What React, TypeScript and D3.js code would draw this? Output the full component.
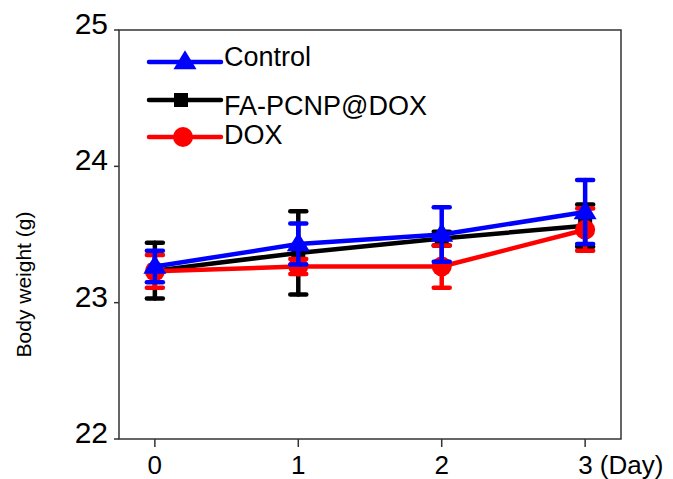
import React from "react";
import * as d3 from "d3";

const days = [0, 1, 2, 3];
const dayLabels = ["0", "1", "2", "3 (Day)"];
const yTicks = [22, 23, 24, 25];
const seriesNames = ["Control", "FA-PCNP@DOX", "DOX"];
const controlMean = [23.265, 23.43, 23.5, 23.665];
const controlErr = [0.115, 0.15, 0.2, 0.235];
const faMean = [23.235, 23.365, 23.47, 23.565];
const faErr = [0.205, 0.305, 0.05, 0.155];
const doxMean = [23.23, 23.265, 23.265, 23.535];
const doxErr = [0.12, 0.055, 0.155, 0.155];

const W = 673;
const H = 479;
const FONT = "Arial, 'Liberation Sans', Helvetica, sans-serif";

type Series = { name: string; mean: number[]; err: number[]; color: string; marker: string };

const series: Series[] = [
  { name: seriesNames[0], mean: controlMean, err: controlErr, color: "#0000ff", marker: "triangle" },
  { name: seriesNames[1], mean: faMean, err: faErr, color: "#000000", marker: "square" },
  { name: seriesNames[2], mean: doxMean, err: doxErr, color: "#ff0000", marker: "circle" },
];

const drawOrder = [1, 2, 0];

function Marker({ type, x, y, color }: { type: string; x: number; y: number; color: string }) {
  if (type === "triangle") {
    const w = 23, h = 19;
    return <path d={`M${x},${y - h * 0.62} L${x + w / 2},${y + h * 0.38} L${x - w / 2},${y + h * 0.38} Z`} fill={color} />;
  }
  if (type === "square") {
    const s = 14;
    return <rect x={x - s / 2} y={y - s / 2} width={s} height={s} fill={color} />;
  }
  return <circle cx={x} cy={y} r={10} fill={color} />;
}

export default function App() {
  const x = d3.scaleLinear().domain([-0.25, 3.25]).range([119, 621]);
  const y = d3.scaleLinear().domain([22, 25]).range([439, 30]);
  const line = d3.line<number>().x((_, i) => x(days[i])).y((d) => y(d));
  const axisColor = "#333";
  const capW = 8;

  return (
    <svg width={W} height={H} style={{ position: "absolute", left: 0, top: 0, background: "#fff" }} fontFamily={FONT}>
      <rect x={0} y={0} width={W} height={H} fill="#fff" />
      {/* frame */}
      <rect x={x(-0.25)} y={y(25)} width={x(3.25) - x(-0.25)} height={y(22) - y(25)} fill="none" stroke={axisColor} strokeWidth={1.5} />
      {/* y ticks */}
      {yTicks.map((t) => (
        <g key={"y" + t}>
          <line x1={x(-0.25) - 5} x2={x(-0.25)} y1={y(t)} y2={y(t)} stroke={axisColor} strokeWidth={1.5} />
          <text x={108} y={y(t) + 4} textAnchor="end" fontSize={30} fill="#000">{t}</text>
        </g>
      ))}
      {/* x ticks */}
      {days.map((d, i) => (
        <g key={"x" + d}>
          <line x1={x(d)} x2={x(d)} y1={y(22)} y2={y(22) + 8} stroke={axisColor} strokeWidth={1.5} />
          <text
            x={i === days.length - 1 ? x(d) - 7 : x(d)}
            y={474}
            textAnchor={i === days.length - 1 ? "start" : "middle"}
            fontSize={26}
            fill="#000"
          >
            {dayLabels[i]}
          </text>
        </g>
      ))}
      <text transform={`translate(31,${(y(22) + y(25)) / 2 + 50}) rotate(-90)`} textAnchor="middle" fontSize={21} fill="#000">
        Body weight (g)
      </text>

      {/* series */}
      {drawOrder.map((si) => {
        const s = series[si];
        return (
          <g key={s.name}>
            <path d={line(s.mean) || ""} fill="none" stroke={s.color} strokeWidth={4.5} strokeLinejoin="round" />
            {s.mean.map((m, i) => {
              const cx = x(days[i]);
              const yt = y(m + s.err[i]);
              const yb = y(m - s.err[i]);
              return (
                <g key={i} stroke={s.color} strokeWidth={4.5} strokeLinecap="round">
                  <line x1={cx} x2={cx} y1={yt} y2={yb} />
                  <line x1={cx - capW} x2={cx + capW} y1={yt} y2={yt} />
                  <line x1={cx - capW} x2={cx + capW} y1={yb} y2={yb} />
                </g>
              );
            })}
            {s.mean.map((m, i) => (
              <Marker key={"m" + i} type={s.marker} x={x(days[i])} y={y(m)} color={s.color} />
            ))}
          </g>
        );
      })}

      {/* legend */}
      {series.map((s, i) => {
        const ly = [62, 100, 137][i];
        const tb = [66, 115, 144][i];
        const mx = [185, 181, 183][i];
        return (
          <g key={"leg" + s.name}>
            <line x1={149} x2={221} y1={ly} y2={ly} stroke={s.color} strokeWidth={4.5} strokeLinecap="round" />
            <Marker type={s.marker} x={mx} y={ly} color={s.color} />
            <text x={224} y={tb} fontSize={27} fill="#000">{s.name}</text>
          </g>
        );
      })}
    </svg>
  );
}
